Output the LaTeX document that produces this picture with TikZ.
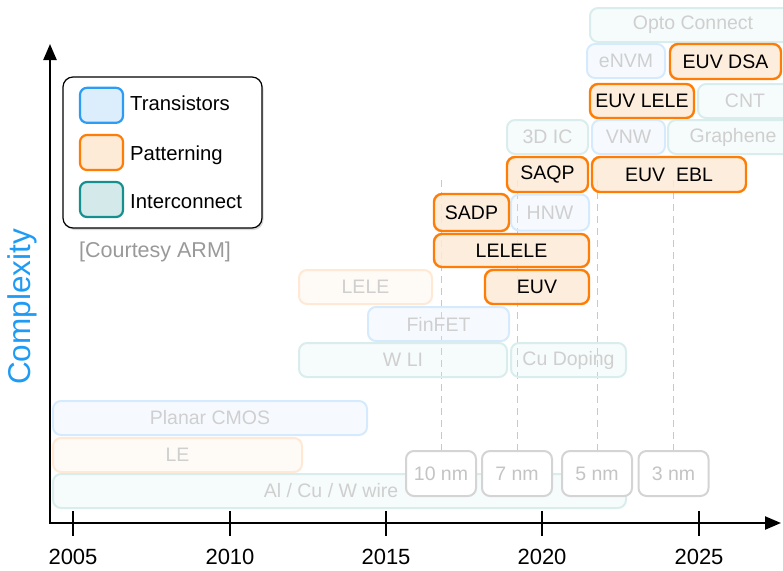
\documentclass[tikz,border=0pt]{standalone}
\usepackage{fontspec}
\setmainfont{Liberation Sans}
\usetikzlibrary{arrows.meta,shadows}

% category colours
\definecolor{trB}{HTML}{2D9CF5}
\definecolor{trF}{HTML}{DCEDFC}
\definecolor{ptB}{HTML}{FF7D05}
\definecolor{ptF}{HTML}{FDEAD7}
\definecolor{icB}{HTML}{16908F}
\definecolor{icF}{HTML}{D4EAEA}
\definecolor{fadetxt}{HTML}{CFCFCF}
\definecolor{nmline}{HTML}{D4D4D4}
\definecolor{nmtxt}{HTML}{C4C4C4}
\definecolor{axisblue}{HTML}{1E9BF5}
\definecolor{guide}{HTML}{C8C8C8}

\begin{document}
\begin{tikzpicture}[x=1pt,y=-1pt,
  boxfont/.style={font=\fontsize{19.5}{23}\selectfont},
  base/.style={rounded corners=8pt, inner sep=0pt, boxfont},
  % strong boxes
  spt/.style={base, draw=ptB, fill=ptF, fill opacity=0.88, text opacity=1, line width=2.4pt, text=black},
  % faded boxes
  ftr/.style={base, draw=trB!20, fill=trF, fill opacity=0.25, text opacity=1, line width=2pt, text=fadetxt},
  fpt/.style={base, draw=ptB!17, fill=ptF, fill opacity=0.25, text opacity=1, line width=2pt, text=fadetxt},
  fic/.style={base, draw=icB!16, fill=icF, fill opacity=0.2, text opacity=1, line width=2pt, text=fadetxt},
  % node-size boxes
  nmbox/.style={base, draw=nmline, fill=white, line width=2pt, text=nmtxt,
    minimum width=70, minimum height=45},
  guideline/.style={draw=guide, line width=1pt, dash pattern=on 7pt off 5pt},
  axisline/.style={line width=2.3pt, line join=miter,
    arrows={Triangle[length=16pt,width=13pt]-Triangle[length=16pt,width=13pt]}},
  tick/.style={line width=2.3pt},
  yearlbl/.style={font=\fontsize{22}{26}\selectfont, inner sep=0pt},
  swatch/.style={rounded corners=7pt, line width=2.2pt, minimum width=43, minimum height=35, inner sep=0pt},
  legtext/.style={font=\fontsize{20.3}{24}\selectfont, inner sep=0pt, anchor=base west},
]
\useasboundingbox (0,0) rectangle (783,570);

% ---- dashed guides from the node sizes up ----
\coordinate (g10) at (441,177);
\coordinate (g7) at (517,177);
\coordinate (g5) at (597,177);
\coordinate (g3) at (673.5,177);
\coordinate (b10) at (441,451);
\coordinate (b7) at (517,451);
\coordinate (b5) at (597,451);
\coordinate (b3) at (673.5,451);
\draw[guideline] (b10) -- (g10);
\draw[guideline] (b7) -- (g7);
\draw[guideline] (b5) -- (g5);
\draw[guideline] (b3) -- (g3);

% ---- technology boxes ----
\node[fic, minimum width=206, minimum height=34] (opto) at (693,25) {Opto Connect};
\node[ftr, minimum width=78, minimum height=34] (envm) at (626,61) {eNVM};
\node[spt, minimum width=111, minimum height=35] (euvdsa) at (725.5,61.5) {EUV DSA};
\node[spt, minimum width=104, minimum height=34] (euvlele) at (642,101) {EUV LELE};
\node[fic, minimum width=94, minimum height=34] (cnt) at (745,101) {CNT};
\node[fic, minimum width=81, minimum height=34] (tdic) at (547.5,137) {3D IC};
\node[ftr, minimum width=73, minimum height=34] (vnw) at (628.5,137) {VNW};
\node[fic, minimum width=130, minimum height=34] (graphene) at (733,137) {Graphene};
\node[spt, minimum width=81, minimum height=35] (saqp) at (547.5,174.5) {SAQP};
\node[spt, minimum width=154, minimum height=35] (euvebl) at (669,174.5) {EUV\ \ EBL};
\node[ftr, minimum width=78, minimum height=36] (hnw) at (550,212.5) {HNW};
\node[spt, minimum width=75, minimum height=37] (sadp) at (471.5,212.5) {SADP};
\node[spt, minimum width=155, minimum height=33] (lelele) at (511.5,250.5) {LELELE};
\node[fpt, minimum width=133, minimum height=34] (lele) at (365.5,287) {LELE};
\node[spt, minimum width=104, minimum height=34] (euv) at (537,287) {EUV};
\node[ftr, minimum width=141, minimum height=34] (finfet) at (438.5,324) {FinFET};
\node[fic, minimum width=208, minimum height=34] (wli) at (403,360) {W LI};
\node[fic, minimum width=115, minimum height=34] (cudoping) at (568.5,360) {Cu Doping};
\node[ftr, minimum width=314, minimum height=34] (planar) at (210,418) {Planar CMOS};
\node[fpt, minimum width=249, minimum height=34] (le) at (177.5,455) {LE};
\node[fic, minimum width=573, minimum height=34] (wire) at (339.5,491) {};
\node[base, text=fadetxt] (wiretext) at (331,491) {Al / Cu / W wire};

% ---- node sizes ----
\node[nmbox] (nm10) at (441,473.5) {10 nm};
\node[nmbox] (nm7) at (517,473.5) {7 nm};
\node[nmbox] (nm5) at (597,473.5) {5 nm};
\node[nmbox] (nm3) at (673.5,473.5) {3 nm};

% ---- axes ----
\coordinate (origin) at (50,523);
\coordinate (xend) at (781,523);
\coordinate (yend) at (50,44);
\draw[axisline] (yend) -- (origin) -- (xend);
\foreach \x/\yr in {73/2005, 230/2010, 386/2015, 542/2020, 699/2025}{
  \coordinate (t\yr a) at (\x,511);
  \coordinate (t\yr b) at (\x,536);
  \draw[tick] (t\yr a) -- (t\yr b);
  \node[yearlbl] (y\yr) at (\x,557) {\yr};
}
\node[rotate=90, text=axisblue, font=\fontsize{31.5}{36}\selectfont, inner sep=0pt] (ylabel) at (22,307) {Complexity};

% ---- legend ----
\node[draw=black, line width=1.2pt, fill=white, rounded corners=10pt,
  minimum width=199, minimum height=151, inner sep=0pt,
  drop shadow={shadow xshift=1.5pt, shadow yshift=-2pt, opacity=0.3}] (legend) at (162.5,152.5) {};
\node[swatch, draw=trB, fill=trF] (swtr) at (101.5,105.3) {};
\node[swatch, draw=ptB, fill=ptF] (swpt) at (101.5,152.5) {};
\node[swatch, draw=icB, fill=icF] (swic) at (101.5,199.5) {};
\node[legtext] (lgtr) at (130,110) {Transistors};
\node[legtext] (lgpt) at (130,160) {Patterning};
\node[legtext] (lgic) at (130,208.5) {Interconnect};
\node[anchor=west, inner sep=0pt, text=black!40, font=\fontsize{21.5}{25}\selectfont] (credit) at (79,252) {[Courtesy ARM]};
\end{tikzpicture}
\end{document}
